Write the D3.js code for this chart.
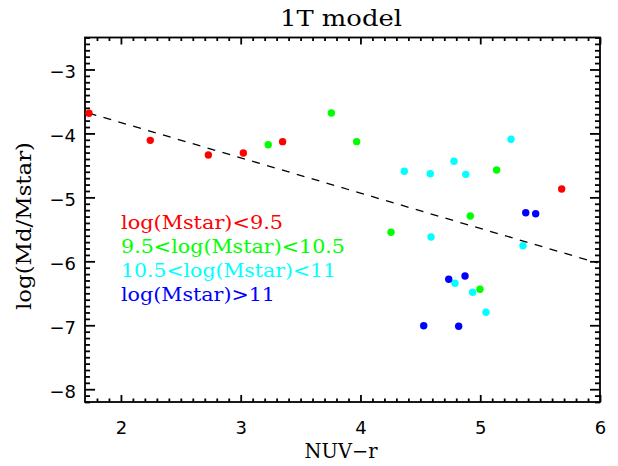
<!DOCTYPE html>
<html>
<head>
<meta charset="utf-8">
<script src="https://cdn.jsdelivr.net/npm/d3@7"></script>
<style>
  html, body { margin: 0; padding: 0; background: #fff; }
  svg { display: block; }
</style>
</head>
<body>
<svg id="chart" width="618" height="466"></svg>
<script>
// Stellar-mass bins: label text and colour
const binLabels = ["log(Mstar)<9.5", "9.5<log(Mstar)<10.5", "10.5<log(Mstar)<11", "log(Mstar)>11"];
const binColors = ["#ff0000", "#00ff00", "#00ffff", "#0000ff"];

// NUV-r colour and log(Md/Mstar) for each bin
const lowNUVr  = [1.733, 2.245, 2.730, 3.022, 3.350, 5.680];
const lowRatio = [-3.685, -4.108, -4.337, -4.306, -4.129, -4.869];

const midNUVr  = [3.230, 3.757, 3.968, 4.255, 4.917, 4.998, 5.137];
const midRatio = [-4.176, -3.681, -4.129, -5.546, -5.291, -6.438, -4.572];

const highNUVr  = [4.366, 4.583, 4.589, 4.781, 4.789, 4.879, 4.937, 5.048, 5.257, 5.357];
const highRatio = [-4.592, -4.630, -5.620, -4.436, -6.344, -4.640, -6.484, -6.797, -4.092, -5.756];

const topNUVr  = [4.528, 4.737, 4.820, 4.873, 5.380, 5.463];
const topRatio = [-7.007, -6.281, -7.016, -6.230, -5.240, -5.255];

// Linear relation drawn as a dashed line
const fitNUVr  = [1.73, 5.98];
const fitRatio = [-3.682, -6.025];

// Axis ticks
const xMajorTicks = [2, 3, 4, 5, 6];
const xTickLabels = ["2", "3", "4", "5", "6"];
const yMajorTicks = [-3, -4, -5, -6, -7, -8];
const yTickLabels = ["\u22123", "\u22124", "\u22125", "\u22126", "\u22127", "\u22128"];

const xs = [lowNUVr, midNUVr, highNUVr, topNUVr];
const ys = [lowRatio, midRatio, highRatio, topRatio];

const svg = d3.select("#chart");
const plotL = 85, plotR = 600, plotT = 37.5, plotB = 402;

const x = d3.scaleLinear().domain([1.7, 6]).range([plotL, plotR]);
const y = d3.scaleLinear().domain([-8.2, -2.5]).range([plotB, plotT]);

const xMinor = d3.range(18, 61).map(d => d / 10).filter(d => !xMajorTicks.includes(d));
const yMinor = d3.range(-82, -24).map(d => d / 10).filter(d => !yMajorTicks.includes(d));

const serif = "'DejaVu Serif', serif";
const sans = "'DejaVu Sans', sans-serif";

function styleAxis(g) {
  g.select(".domain").remove();
  g.selectAll(".tick line").attr("stroke", "#000").attr("stroke-width", 1.8);
}

// Bottom axis
const xLab = d => xTickLabels[xMajorTicks.indexOf(d)];
svg.append("g").attr("transform", `translate(0,${plotB})`)
  .call(d3.axisBottom(x).tickValues(xMinor).tickSize(-3.5).tickFormat(""))
  .call(styleAxis);
const gB = svg.append("g").attr("transform", `translate(0,${plotB})`)
  .call(d3.axisBottom(x).tickValues(xMajorTicks).tickSizeInner(-7).tickSizeOuter(0).tickFormat(xLab))
  .call(styleAxis);
gB.selectAll(".tick text")
  .attr("y", 31.5).attr("dy", null)
  .attr("font-family", sans).attr("font-size", 18).attr("fill", "#000");

// Top axis (ticks only)
svg.append("g").attr("transform", `translate(0,${plotT})`)
  .call(d3.axisTop(x).tickValues(xMinor).tickSize(-3.5).tickFormat(""))
  .call(styleAxis);
svg.append("g").attr("transform", `translate(0,${plotT})`)
  .call(d3.axisTop(x).tickValues(xMajorTicks).tickSize(-7).tickFormat(""))
  .call(styleAxis);

// Left axis
const yLab = d => yTickLabels[yMajorTicks.indexOf(d)];
svg.append("g").attr("transform", `translate(${plotL},0)`)
  .call(d3.axisLeft(y).tickValues(yMinor).tickSize(-5).tickFormat(""))
  .call(styleAxis);
const gL = svg.append("g").attr("transform", `translate(${plotL},0)`)
  .call(d3.axisLeft(y).tickValues(yMajorTicks).tickSizeInner(-10).tickSizeOuter(0).tickFormat(yLab))
  .call(styleAxis);
gL.selectAll(".tick text")
  .attr("x", -9).attr("dy", null).attr("y", 8.5)
  .attr("font-family", sans).attr("font-size", 18).attr("fill", "#000");

// Right axis (ticks only)
svg.append("g").attr("transform", `translate(${plotR},0)`)
  .call(d3.axisRight(y).tickValues(yMinor).tickSize(-5).tickFormat(""))
  .call(styleAxis);
svg.append("g").attr("transform", `translate(${plotR},0)`)
  .call(d3.axisRight(y).tickValues(yMajorTicks).tickSize(-10).tickFormat(""))
  .call(styleAxis);

// Frame
svg.append("rect")
  .attr("x", plotL).attr("y", plotT)
  .attr("width", plotR - plotL).attr("height", plotB - plotT)
  .attr("fill", "none").attr("stroke", "#000").attr("stroke-width", 1.8);

// Dashed relation
svg.append("path")
  .datum(d3.zip(fitNUVr, fitRatio))
  .attr("d", d3.line().x(d => x(d[0])).y(d => y(d[1])))
  .attr("fill", "none").attr("stroke", "#000")
  .attr("stroke-width", 1.3).attr("stroke-dasharray", "8,7.5");

// Points
xs.forEach((arr, i) => {
  svg.append("g").selectAll("circle")
    .data(d3.zip(arr, ys[i]))
    .join("circle")
    .attr("cx", d => x(d[0])).attr("cy", d => y(d[1]))
    .attr("r", 3.7).attr("fill", binColors[i]);
});

// Legend
const legendWidths = [162, 224, 215, 154];
binLabels.forEach((t, i) => {
  svg.append("text")
    .attr("x", 121).attr("y", 228.5 + i * 24.3)
    .attr("font-family", serif).attr("font-size", 19)
    .attr("fill", binColors[i])
    .attr("textLength", legendWidths[i]).attr("lengthAdjust", "spacingAndGlyphs")
    .text(t);
});

// Title and axis titles
svg.append("text")
  .attr("x", 341).attr("y", 26).attr("text-anchor", "middle")
  .attr("font-family", serif).attr("font-size", 23)
  .attr("textLength", 122).attr("lengthAdjust", "spacingAndGlyphs")
  .text("1T model");

svg.append("text")
  .attr("x", 341).attr("y", 458).attr("text-anchor", "middle")
  .attr("font-family", serif).attr("font-size", 20)
  .attr("textLength", 73).attr("lengthAdjust", "spacingAndGlyphs")
  .text("NUV\u2212r");

svg.append("text")
  .attr("transform", "translate(30.7,226) rotate(-90)")
  .attr("text-anchor", "middle")
  .attr("font-family", serif).attr("font-size", 21)
  .attr("textLength", 168).attr("lengthAdjust", "spacingAndGlyphs")
  .text("log(Md/Mstar)");
</script>
</body>
</html>
